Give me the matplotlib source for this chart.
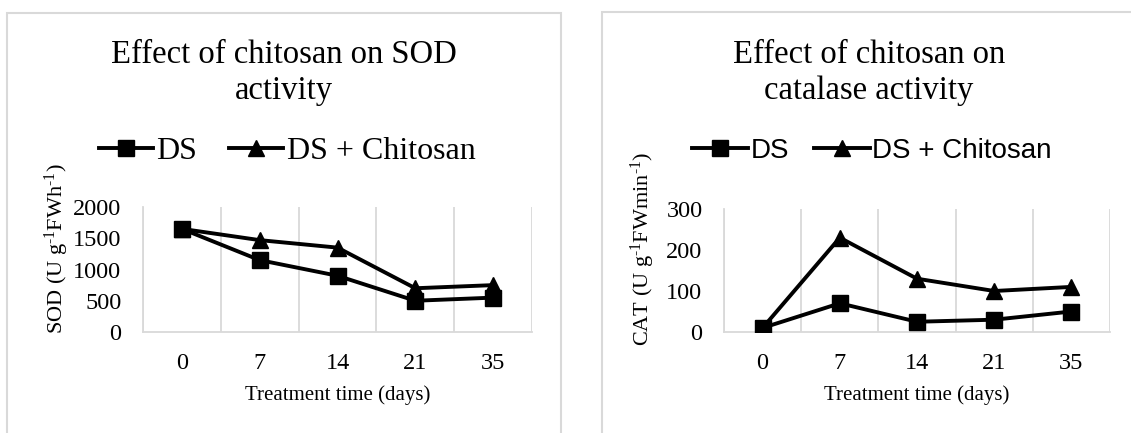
import matplotlib
matplotlib.use('Agg')
import matplotlib.pyplot as plt
from matplotlib.patches import Rectangle
from matplotlib.ticker import FixedLocator

# data
days = ['0', '7', '14', '21', '35']
sod_ds = [1650, 1150, 900, 500, 550]
sod_chitosan = [1650, 1470, 1350, 700, 750]
cat_ds = [10, 70, 25, 30, 50]
cat_chitosan = [10, 230, 130, 100, 110]

W, H = 1131, 433
serif = 'Liberation Serif'
grid_col = '#d9d9d9'

plt.rcParams['mathtext.fontset'] = 'custom'
plt.rcParams['mathtext.rm'] = serif
plt.rcParams['mathtext.it'] = serif + ':italic'
plt.rcParams['mathtext.default'] = 'rm'

fig = plt.figure(figsize=(W / 100, H / 100), dpi=100)


def px(x, y):
    # pixel position (from top-left) -> figure fraction
    return x / W, 1 - y / H


# panel borders
fig.patches.append(Rectangle(px(7, 460), (561 - 7) / W, (460 - 13) / H,
                             transform=fig.transFigure, fill=False,
                             edgecolor=grid_col, lw=1.5))
fig.patches.append(Rectangle(px(602, 460), (1200 - 602) / W, (460 - 12) / H,
                             transform=fig.transFigure, fill=False,
                             edgecolor=grid_col, lw=1.5))


def panel(rect, ds, chit, ymax, ystep, title1, title2, ylabel, cx, ylab_x,
          leg_font, leg_size, leg_hl, leg_cs):
    left, top, right, bottom = rect
    ax = fig.add_axes([left / W, 1 - bottom / H, (right - left) / W, (bottom - top) / H])
    x = range(len(days))
    l2, = ax.plot(x, chit, color='k', lw=2.8, marker='^', ms=12, zorder=3,
                  label='DS + Chitosan')
    l1, = ax.plot(x, ds, color='k', lw=2.8, marker='s', ms=12, zorder=4,
                  label='DS')
    ax.set_xlim(-0.5, len(days) - 0.5)
    ax.set_ylim(0, ymax)
    ax.set_yticks(range(0, ymax + 1, ystep))
    ax.set_xticks(list(x))
    ax.set_xticklabels(days)
    ax.xaxis.set_minor_locator(FixedLocator([i - 0.5 for i in range(len(days) + 1)]))
    ax.grid(which='minor', axis='x', color=grid_col, lw=1.3)
    ax.tick_params(which='both', length=0)
    ax.tick_params(axis='x', pad=15, labelsize=17.5)
    ax.tick_params(axis='y', pad=15.5, labelsize=17.5)
    for t in ax.get_xticklabels() + ax.get_yticklabels():
        t.set_fontfamily(serif)
    for s in ['top', 'right']:
        ax.spines[s].set_visible(False)
    ax.spines['left'].set_color(grid_col)
    ax.spines['bottom'].set_color(grid_col)
    ax.spines['left'].set_linewidth(1.3)
    ax.spines['bottom'].set_linewidth(1.3)

    fig.text(*px(cx, 63), title1, ha='center', va='baseline', fontsize=23.5, family=serif)
    fig.text(*px(cx, 99), title2, ha='center', va='baseline', fontsize=23.5, family=serif)
    fig.text(*px((left + right) / 2, 395), 'Treatment time (days)', ha='center',
             va='center', fontsize=15, family=serif)
    fig.text(*px(ylab_x, 249), ylabel, ha='center', va='center', rotation=90,
             fontsize=16, family=serif)
    ax.legend(handles=[l1, l2], ncol=2, loc='center', bbox_to_anchor=px(cx + 3, 151),
              bbox_transform=fig.transFigure, frameon=False,
              prop={'family': leg_font, 'size': leg_size}, handlelength=leg_hl,
              handletextpad=0.1, columnspacing=leg_cs, borderpad=0)
    return ax


panel((143, 207, 532, 332), sod_ds, sod_chitosan, 2000, 500,
      'Effect of chitosan on SOD', 'activity',
      'SOD (U g$^{\\text{-}1}$FWh$^{\\text{-}1}$)', 284, 57, serif, 23, 1.7, 1.0)
panel((724, 209, 1110, 332), cat_ds, cat_chitosan, 300, 100,
      'Effect of chitosan on', 'catalase activity',
      'CAT (U g$^{\\text{-}1}$FWmin$^{\\text{-}1}$)', 869, 643, 'Liberation Sans', 20, 2.0, 0.9)

plt.savefig('out.png', dpi=100)
